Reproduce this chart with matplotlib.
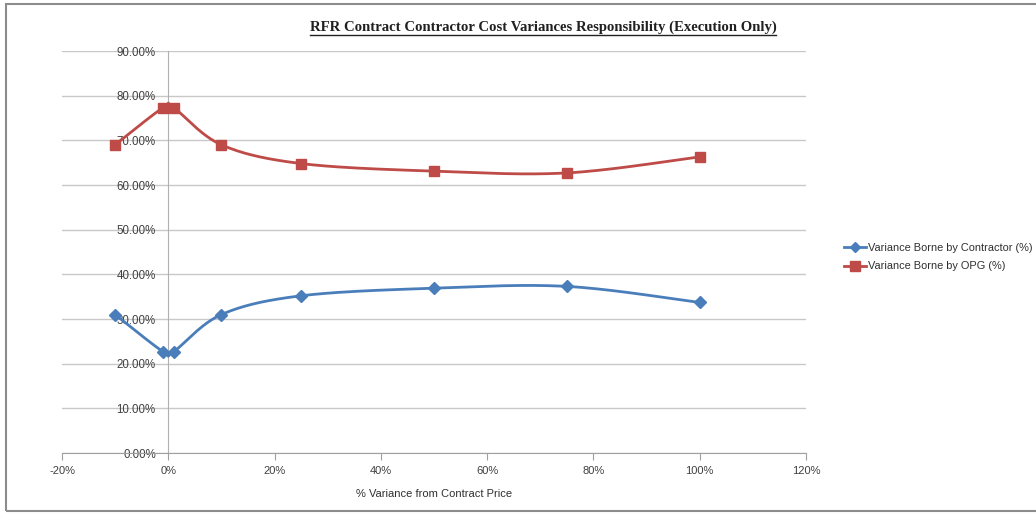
import numpy as np
import matplotlib
matplotlib.use('Agg')
import matplotlib.pyplot as plt
from matplotlib.lines import Line2D
from matplotlib.patches import Rectangle
from matplotlib.ticker import FuncFormatter, MultipleLocator

plt.rcParams['font.family'] = ['Liberation Sans', 'DejaVu Sans']

# % variance from contract price
variance = [-10, -1, 1, 10, 25, 50, 75, 100]
contractor = [31.0, 22.7, 22.7, 31.0, 35.2, 36.9, 37.3, 33.7]
opg = [69.0, 77.3, 77.3, 69.0, 64.8, 63.1, 62.7, 66.3]

title = "RFR Contract Contractor Cost Variances Responsibility (Execution Only)"
xlabel = "% Variance from Contract Price"
labels = ["Variance Borne by Contractor (%)", "Variance Borne by OPG (%)"]

blue = '#4a7ebb'
red = '#be4b48'


def smooth(xs, ys, sx=5.31, sy=4.47, n=30):
    # excel style bezier smoothing, done in pixel-ish units
    px = np.array(xs, float) * sx
    py = np.array(ys, float) * sy
    pts = np.column_stack([px, py])
    out = []
    for i in range(len(pts) - 1):
        p0 = pts[max(i - 1, 0)]
        p1 = pts[i]
        p2 = pts[i + 1]
        p3 = pts[min(i + 2, len(pts) - 1)]
        c1 = p1 + (p2 - p0) / 6.0
        c2 = p2 - (p3 - p1) / 6.0
        t = np.linspace(0, 1, n)[:, None]
        seg = ((1 - t) ** 3) * p1 + 3 * ((1 - t) ** 2) * t * c1 + 3 * (1 - t) * t ** 2 * c2 + t ** 3 * p2
        out.append(seg if i == 0 else seg[1:])
    out = np.vstack(out)
    return out[:, 0] / sx, out[:, 1] / sy


fig = plt.figure(figsize=(10.36, 5.14), dpi=100)
fig.patches.append(Rectangle((6 / 1036, 3 / 514), 1.2, 507 / 514, transform=fig.transFigure,
                             fill=False, edgecolor='#8c8c8c', linewidth=1.5))

ax = fig.add_axes([62 / 1036, 61 / 514, 744 / 1036, 402 / 514])
ax.set_xlim(-20, 120)
ax.set_ylim(0, 90)

for ys, c, m, ms in [(contractor, blue, 'D', 6), (opg, red, 's', 7.5)]:
    sxs, sys_ = smooth(variance, ys)
    ax.plot(sxs, sys_, color=c, linewidth=2, zorder=3)
    ax.plot(variance, ys, linestyle='none', marker=m, markersize=ms, color=c, zorder=4)

ax.yaxis.set_major_locator(MultipleLocator(10))
ax.xaxis.set_major_locator(MultipleLocator(20))
ax.yaxis.set_major_formatter(FuncFormatter(lambda v, p: '%.2f%%' % v))
ax.xaxis.set_major_formatter(FuncFormatter(lambda v, p: '%d%%' % v))
ax.grid(axis='y', color='#c8c8c8', linewidth=1)
ax.set_axisbelow(True)

for s in ['top', 'right']:
    ax.spines[s].set_visible(False)
ax.spines['left'].set_position(('data', 0))
ax.spines['left'].set_color('#b0b0b0')
ax.spines['bottom'].set_color('#a0a0a0')
ax.tick_params(axis='y', length=0, pad=9, labelsize=8.3, colors='#404040')
ax.tick_params(axis='x', length=5, direction='out', color='#a0a0a0', pad=4, labelsize=8, labelcolor='#404040')

ax.set_xlabel(xlabel, fontsize=8, color='#303030', labelpad=10)

fig.text(543 / 1036, 1 - 27 / 514, title, ha='center', va='center', fontsize=10.6,
         fontweight='bold', family='Liberation Serif', color='#202020')
fig.add_artist(Line2D([310 / 1036, 776 / 1036], [1 - 35 / 514, 1 - 35 / 514],
                      transform=fig.transFigure, color='#202020', linewidth=1))

handles = [Line2D([], [], color=blue, marker='D', markersize=5, linewidth=2),
           Line2D([], [], color=red, marker='s', markersize=7, linewidth=2)]
fig.legend(handles, labels, loc='center left', bbox_to_anchor=(834 / 1036, 1 - 257 / 514),
           frameon=False, fontsize=7.9, handlelength=2.0, handletextpad=0.2,
           labelspacing=0.8, labelcolor='#303030')

fig.savefig('out.png', dpi=100)
